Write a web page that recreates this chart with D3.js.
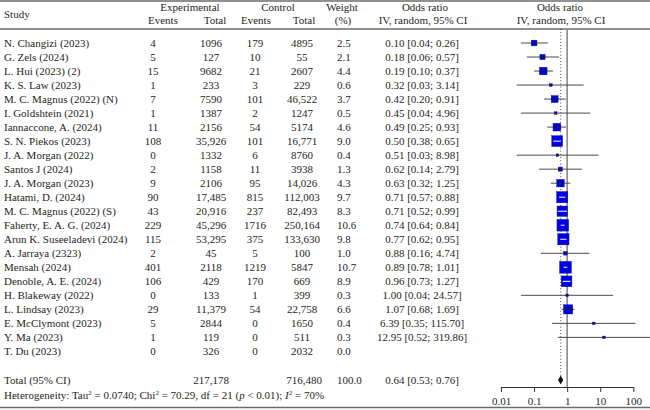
<!DOCTYPE html>
<html lang="en">
<head>
  <meta charset="UTF-8">
  <title>Forest plot</title>
  <style>
    body { margin: 0; background: #fff; }
    svg text {
      font-family: "Liberation Serif", "DejaVu Serif", serif;
      font-size: 11px;
      fill: #231f20;
    }
    .rule { stroke: #6b6b6b; stroke-width: 1.6px; }
    .ci { stroke: #4a4a4a; stroke-width: 1px; }
    .sq { fill: #0000e8; stroke: #101060; stroke-width: 0.4px; }
    .axis path, .axis line { stroke: #333; stroke-width: 1px; }
  </style>
</head>
<body>

<div id="chart"></div>

<script src="https://d3js.org/d3.v7.min.js"></script>
<script>
  // data
  var studies = ["N. Changizi (2023)", "G. Zels (2024)", "L. Hui (2023) (2)", "K. S. Law (2023)",
    "M. C. Magnus (2022) (N)", "I. Goldshtein (2021)", "Iannaccone, A. (2024)", "S. N. Piekos (2023)",
    "J. A. Morgan (2022)", "Santos J (2024)", "J. A. Morgan (2023)", "Hatami, D. (2024)",
    "M. C. Magnus (2022) (S)", "Faherty, E. A. G. (2024)", "Arun K. Suseeladevi (2024)", "A. Jarraya (2323)",
    "Mensah (2024)", "Denoble, A. E. (2024)", "H. Blakeway (2022)", "L. Lindsay (2023)",
    "E. McClymont (2023)", "Y. Ma (2023)", "T. Du (2023)"];
  var expEvents = [4, 5, 15, 1, 7, 1, 11, 108, 0, 2, 9, 90, 43, 229, 115, 2, 401, 106, 0, 29, 5, 1, 0];
  var expTotal = [1096, 127, 9682, 233, 7590, 1387, 2156, 35926, 1332, 1158, 2106, 17485, 20916, 45296, 53295, 45, 2118, 429, 133, 11379, 2844, 119, 326];
  var ctrlEvents = [179, 10, 21, 3, 101, 2, 54, 101, 6, 11, 95, 815, 237, 1716, 375, 5, 1219, 170, 1, 54, 0, 0, 0];
  var ctrlTotal = [4895, 55, 2607, 229, 46522, 1247, 5174, 16771, 8760, 3938, 14026, 112003, 82493, 250164, 133630, 100, 5847, 669, 399, 22758, 1650, 511, 2032];
  var weights = [2.5, 2.1, 4.4, 0.6, 3.7, 0.5, 4.6, 9.0, 0.4, 1.3, 4.3, 9.7, 8.3, 10.6, 9.8, 1.0, 10.7, 8.9, 0.3, 6.6, 0.4, 0.3, 0.0];
  var orEst = [0.10, 0.18, 0.19, 0.32, 0.42, 0.45, 0.49, 0.50, 0.51, 0.62, 0.63, 0.71, 0.71, 0.74, 0.77, 0.88, 0.89, 0.96, 1.00, 1.07, 6.39, 12.95, null];
  var orLow = [0.04, 0.06, 0.10, 0.03, 0.20, 0.04, 0.25, 0.38, 0.03, 0.14, 0.32, 0.57, 0.52, 0.64, 0.62, 0.16, 0.78, 0.73, 0.04, 0.68, 0.35, 0.52, null];
  var orHigh = [0.26, 0.57, 0.37, 3.14, 0.91, 4.96, 0.93, 0.65, 8.98, 2.79, 1.25, 0.88, 0.99, 0.84, 0.95, 4.74, 1.01, 1.27, 24.57, 1.69, 115.70, 319.86, null];
  var pooled = {est: 0.64, lo: 0.53, hi: 0.76, expTotal: 217178, ctrlTotal: 716480, weight: 100.0};
  var axisTicks = [0.01, 0.1, 1, 10, 100];

  var width = 650, height = 410;
  var svg = d3.select("#chart").append("svg")
    .attr("width", width)
    .attr("height", height);

  var x = d3.scaleLog().domain([0.01, 100]).range([501, 633.3]);
  var y = d3.scaleLinear().domain([0, studies.length - 1]).range([43, 351.4]);
  var totalY = 380, hetY = 395, axisY = 387;

  function fmtN(n) { return n >= 10000 ? d3.format(",")(n) : String(n); }
  function fmtR(v) { return v.toFixed(2); }

  // horizontal rules
  svg.append("line").attr("class", "rule").attr("x1", 0).attr("x2", width).attr("y1", 1).attr("y2", 1);
  svg.append("line").attr("class", "rule").attr("x1", 0).attr("x2", width).attr("y1", 29).attr("y2", 29);
  svg.append("line").attr("class", "rule").attr("x1", 0).attr("x2", width).attr("y1", 407.5).attr("y2", 407.5);

  // header
  var head = [
    ["Study", 4, 17.5, "start"],
    ["Experimental", 190, 11, "middle"],
    ["Control", 278, 11, "middle"],
    ["Events", 163, 24, "middle"],
    ["Total", 215, 24, "middle"],
    ["Events", 256, 24, "middle"],
    ["Total", 304, 24, "middle"],
    ["Weight", 342, 11, "middle"],
    ["(%)", 343, 24, "middle"],
    ["Odds ratio", 425, 11, "middle"],
    ["IV, random, 95% CI", 423, 24, "middle"],
    ["Odds ratio", 560, 11, "middle"],
    ["IV, random, 95% CI", 561, 24, "middle"]
  ];
  svg.selectAll(".head").data(head).enter().append("text")
    .attr("class", "head")
    .attr("x", function(d) { return d[1]; })
    .attr("y", function(d) { return d[2]; })
    .attr("text-anchor", function(d) { return d[3]; })
    .text(function(d) { return d[0]; });

  // table rows
  var rows = svg.selectAll(".row").data(studies).enter().append("g")
    .attr("class", "row")
    .attr("transform", function(d, i) { return "translate(0," + (y(i) + 3.6) + ")"; });

  rows.append("text").attr("x", 4).text(function(d) { return d; });
  rows.append("text").attr("x", 153).attr("text-anchor", "middle").text(function(d, i) { return expEvents[i]; });
  rows.append("text").attr("x", 211).attr("text-anchor", "middle").text(function(d, i) { return fmtN(expTotal[i]); });
  rows.append("text").attr("x", 255).attr("text-anchor", "middle").text(function(d, i) { return ctrlEvents[i]; });
  rows.append("text").attr("x", 302).attr("text-anchor", "middle").text(function(d, i) { return fmtN(ctrlTotal[i]); });
  rows.append("text").attr("x", 337).text(function(d, i) { return weights[i].toFixed(1); });
  rows.append("text").attr("x", 422).attr("text-anchor", "middle")
    .text(function(d, i) {
      return orEst[i] == null ? "" : fmtR(orEst[i]) + " [" + fmtR(orLow[i]) + "; " + fmtR(orHigh[i]) + "]";
    });

  // total + heterogeneity
  var tot = svg.append("g").attr("transform", "translate(0," + (totalY + 3.6) + ")");
  tot.append("text").attr("x", 4).text("Total (95% CI)");
  tot.append("text").attr("x", 211).attr("text-anchor", "middle").text(d3.format(",")(pooled.expTotal));
  tot.append("text").attr("x", 304).attr("text-anchor", "middle").text(d3.format(",")(pooled.ctrlTotal));
  tot.append("text").attr("x", 337).text(pooled.weight.toFixed(1));
  tot.append("text").attr("x", 422).attr("text-anchor", "middle")
    .text(fmtR(pooled.est) + " [" + fmtR(pooled.lo) + "; " + fmtR(pooled.hi) + "]");

  var het = svg.append("text").attr("x", 4).attr("y", hetY + 3.6);
  het.append("tspan").text("Heterogeneity: Tau");
  het.append("tspan").attr("dy", -3.5).style("font-size", "7px").text("2");
  het.append("tspan").attr("dy", 3.5).text(" = 0.0740; Chi");
  het.append("tspan").attr("dy", -3.5).style("font-size", "7px").text("2");
  het.append("tspan").attr("dy", 3.5).text(" = 70.29, df = 21 (");
  het.append("tspan").style("font-style", "italic").text("p");
  het.append("tspan").text(" < 0.01); ");
  het.append("tspan").style("font-style", "italic").text("I");
  het.append("tspan").attr("dy", -3.5).style("font-size", "7px").text("2");
  het.append("tspan").attr("dy", 3.5).text(" = 70%");

  // forest panel
  svg.append("line")
    .attr("x1", x(1)).attr("x2", x(1)).attr("y1", 29).attr("y2", axisY)
    .attr("stroke", "#8a8a8a").attr("stroke-width", 1.6);
  svg.append("line")
    .attr("x1", x(pooled.est)).attr("x2", x(pooled.est)).attr("y1", 29).attr("y2", totalY - 4)
    .attr("stroke", "#333").attr("stroke-width", 0.9).attr("stroke-dasharray", "1,2.2");

  var idx = d3.range(studies.length).filter(function(i) { return orEst[i] != null; });
  var marks = svg.selectAll(".mark").data(idx).enter().append("g").attr("class", "mark");

  function side(i) { return Math.max(2.6, 3.6 * Math.sqrt(weights[i])); }
  function inside(i) { var s = side(i) / 2; return x(orLow[i]) >= x(orEst[i]) - s && x(orHigh[i]) <= x(orEst[i]) + s; }

  marks.append("line").attr("class", "ci")
    .attr("x1", function(i) { return x(orLow[i]); })
    .attr("x2", function(i) { return x(orHigh[i]); })
    .attr("y1", function(i) { return y(i); })
    .attr("y2", function(i) { return y(i); });
  marks.append("rect").attr("class", "sq")
    .attr("x", function(i) { return x(orEst[i]) - side(i) / 2; })
    .attr("y", function(i) { return y(i) - side(i) / 2; })
    .attr("width", side)
    .attr("height", side);
  marks.append("line")
    .attr("stroke", function(i) { return inside(i) ? "#fff" : "#222"; })
    .attr("stroke-width", 1)
    .attr("x1", function(i) { return Math.max(x(orLow[i]), x(orEst[i]) - side(i) / 2); })
    .attr("x2", function(i) { return Math.min(x(orHigh[i]), x(orEst[i]) + side(i) / 2); })
    .attr("y1", function(i) { return y(i); })
    .attr("y2", function(i) { return y(i); });

  // pooled diamond
  svg.append("path")
    .attr("fill", "#111")
    .attr("d", "M" + x(pooled.lo) + "," + totalY + "L" + x(pooled.est) + "," + (totalY - 4.5) +
      "L" + x(pooled.hi) + "," + totalY + "L" + x(pooled.est) + "," + (totalY + 4.5) + "Z");

  // axis
  var axis = d3.axisBottom(x)
    .tickValues(axisTicks)
    .tickSize(5)
    .tickSizeOuter(0)
    .tickFormat(function(d) { return String(d); });
  var ag = svg.append("g").attr("class", "axis")
    .attr("transform", "translate(0," + axisY + ")")
    .call(axis);
  ag.selectAll("text")
    .attr("dy", 0).attr("y", 17.5)
    .style("font-family", "'Liberation Serif', serif")
    .style("font-size", "11px")
    .attr("fill", "#231f20");
</script>

</body>
</html>
